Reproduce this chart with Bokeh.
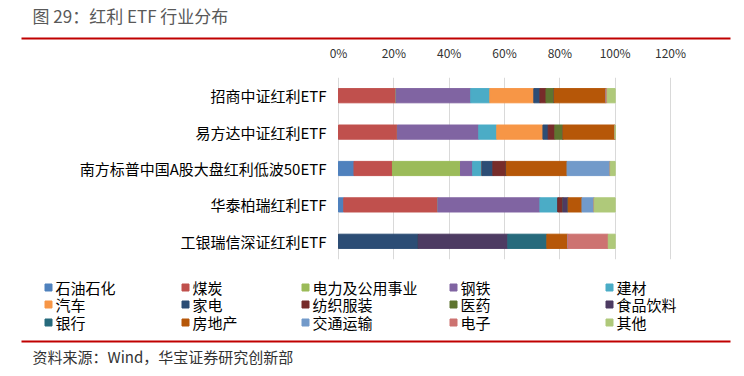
from bokeh.plotting import figure
from bokeh.models import ColumnDataSource, Range1d, FactorRange, FixedTicker, NumeralTickFormatter
from bokeh.layouts import column
from bokeh.core.properties import value
from bokeh.embed import file_html
from bokeh.resources import INLINE

# ---------------- data ----------------
funds = ["招商中证红利ETF", "易方达中证红利ETF", "南方标普中国A股大盘红利低波50ETF",
         "华泰柏瑞红利ETF", "工银瑞信深证红利ETF"]
sectors = ["石油石化", "煤炭", "电力及公用事业", "钢铁", "建材",
           "汽车", "家电", "纺织服装", "医药", "食品饮料",
           "银行", "房地产", "交通运输", "电子", "其他"]
colors = ["#4F81BD", "#C0504D", "#9BBB59", "#8064A2", "#4BACC6",
          "#F79646", "#2C4D75", "#772C2A", "#5F7530", "#4D3B62",
          "#276A7C", "#B65708", "#729ACA", "#CD7371", "#AFC97A"]
# shares (%) per fund, in sector order
zhaoshang = [0, 20.8, 0, 27.0, 6.9, 15.9, 2.2, 2.2, 2.9, 0, 0, 18.8, 0, 0.4, 2.9]
yifangda = [0, 21.3, 0, 29.4, 6.5, 16.7, 1.9, 2.4, 2.9, 0, 0, 18.9, 0, 0, 0]
nanfang = [5.6, 13.9, 24.6, 4.4, 3.3, 0, 4.0, 4.9, 0, 0, 0, 21.9, 15.6, 0, 1.8]
huatai = [1.9, 34.0, 0, 36.9, 6.5, 0, 0, 1.8, 0, 1.9, 0, 5.0, 4.4, 0, 7.6]
gongyin = [0, 0, 0, 0, 0, 0, 28.9, 0, 0, 32.3, 14.1, 7.6, 0, 14.6, 2.5]
x_ticks = [0, 0.2, 0.4, 0.6, 0.8, 1.0, 1.2]

title_text = "图 29：红利 ETF 行业分布"
source_text = "资料来源：Wind，华宝证券研究创新部"

FONT = "Noto Sans CJK SC"
W = 744

# layout constants (pixels)
PX0, PX120 = 338.0, 670.0          # where 0% and 120% fall
K = (PX120 - PX0) / 1.2            # pixels per unit share


def blank(h):
    f = figure(width=W, height=h, x_range=Range1d(0, W), y_range=Range1d(h, 0),
               x_axis_location=None, y_axis_location=None, toolbar_location=None,
               output_backend="svg", min_border=0)
    f.outline_line_color = None
    f.grid.visible = False
    return f


# ---------------- header ----------------
top = blank(40)
top.text(x=[32], y=[15], text=[title_text], text_font=value(FONT), text_font_size="17px",
         text_color="#595959", text_baseline="middle", text_align="left")
top.segment(x0=[21], y0=[38], x1=[730], y1=[38], line_color="#C00000", line_width=2)

# ---------------- main chart ----------------
rows = [zhaoshang, yifangda, nanfang, huatai, gongyin]
data = {"fund": funds}
for i, s in enumerate(sectors):
    data[s] = [r[i] / 100.0 for r in rows]
src = ColumnDataSource(data)

p = figure(width=W, height=232, y_range=FactorRange(*funds[::-1]),
           x_range=Range1d(-PX0 / K, (W - PX0) / K),
           x_axis_location="above", y_axis_location=None,
           toolbar_location=None, output_backend="svg",
           min_border_left=0, min_border_right=0, min_border_top=26, min_border_bottom=13)
p.outline_line_color = None
p.hbar_stack(sectors, y="fund", height=0.39, color=colors, source=src)

# category labels, right-aligned just left of the 0% line
p.text(x=[-12 / K] * len(funds), y=funds, text=funds, text_font=value(FONT),
       text_font_size="15px", text_color="#000000", text_align="right",
       text_baseline="middle")

p.xgrid.ticker = FixedTicker(ticks=x_ticks)
p.xgrid.grid_line_color = "#D9D9D9"
p.ygrid.visible = False
p.xaxis.ticker = FixedTicker(ticks=x_ticks)
p.xaxis.formatter = NumeralTickFormatter(format="0%")
p.xaxis.axis_line_color = None
p.xaxis.major_tick_line_color = None
p.xaxis.minor_tick_line_color = None
p.xaxis.major_label_standoff = 11
p.xaxis.major_label_text_font = FONT
p.xaxis.major_label_text_font_size = "12px"
p.xaxis.major_label_text_color = "#333333"

# ---------------- legend ----------------
leg = blank(64)
col_x = [45, 182, 302, 450, 606]
row_y = [15, 32, 50]
lx, ly, tx = [], [], []
for i, s in enumerate(sectors):
    lx.append(col_x[i % 5] + 3)
    ly.append(row_y[i // 5])
    tx.append(col_x[i % 5] + 10)
leg.scatter(x=lx, y=ly, marker="square", size=7, color=colors)
leg.text(x=tx, y=ly, text=sectors, text_font=value(FONT), text_font_size="15px",
         text_color="#000000", text_baseline="middle", text_align="left")

# ---------------- footer ----------------
bot = blank(40)
bot.segment(x0=[21], y0=[5], x1=[730], y1=[5], line_color="#C00000", line_width=2)
bot.text(x=[32], y=[20], text=[source_text], text_font=value(FONT), text_font_size="15px",
         text_color="#333333", text_baseline="middle", text_align="left")

layout = column(top, p, leg, bot, spacing=0)
open("out.html", "w").write(file_html(layout, INLINE))
